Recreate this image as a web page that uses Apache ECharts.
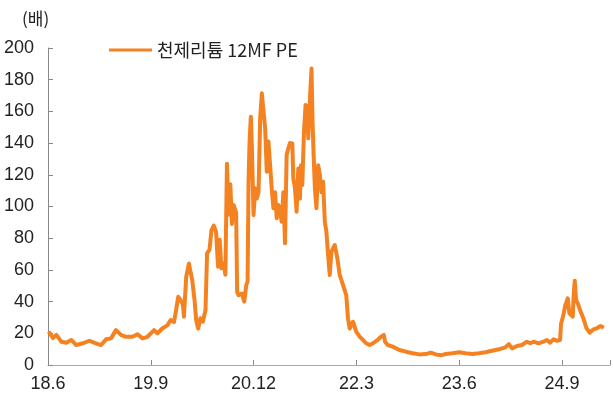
<!DOCTYPE html>
<html>
<head>
<meta charset="utf-8">
<script src="https://cdn.jsdelivr.net/npm/echarts@6/dist/echarts.min.js"></script>
<style>
    html, body { margin: 0; padding: 0; background: #fff; }
    #chart { width: 613px; height: 398px; }
</style>
</head>
<body>
<div id="chart"></div>
<script>
// months since 2018-06, and PE
var monthIdx = [
    0.1, 0.73, 1.22, 1.94, 2.67, 3.39, 4.12, 5.08, 6.05, 6.78, 7.75, 8.47, 9.2, 9.92, 10.65, 11.37,
    12.33, 13.06, 13.78, 14.51, 15.48, 15.96, 16.68, 17.41, 17.9, 18.38, 18.63, 19.0, 19.35, 19.69,
    19.83, 20.17, 20.56, 20.8, 21.04, 21.38, 21.62, 21.91, 22.25, 22.59, 22.98, 23.21, 23.56, 23.85,
    24.18, 24.52, 24.81, 25.05, 25.3, 25.63, 25.88, 26.11, 26.36, 26.6, 26.84, 27.08, 27.45, 27.6,
    27.81, 28.29, 28.64, 28.93, 29.12, 29.26, 29.41, 29.6, 29.74, 29.99, 30.23, 30.47, 30.72, 30.96,
    31.2, 31.44, 31.69, 31.92, 32.16, 32.41, 32.64, 32.89, 33.13, 33.37, 33.61, 33.86, 34.09, 34.34,
    34.58, 34.82, 35.07, 35.31, 35.65, 35.79, 36.04, 36.27, 36.52, 36.76, 36.91, 37.1, 37.35, 37.58,
    37.83, 37.97, 38.22, 38.45, 38.6, 38.74, 38.94, 39.17, 39.42, 39.67, 39.9, 40.14, 40.39, 40.62,
    40.87, 41.11, 41.35, 41.84, 42.22, 42.56, 43.04, 43.52, 43.77, 44.01, 44.5, 44.97, 45.47, 45.95,
    46.42, 46.92, 47.4, 48.12, 48.6, 48.99, 49.18, 49.57, 50.3, 51.27, 52.23, 53.2, 54.17, 55.13,
    55.85, 56.58, 57.3, 58.03, 59.0, 59.97, 60.93, 61.9, 62.87, 63.83, 64.8, 65.78, 66.73, 67.23,
    67.71, 68.43, 69.16, 69.88, 70.36, 70.85, 71.58, 72.3, 72.78, 73.26, 73.76, 74.23, 74.71, 74.86,
    75.2, 75.49, 75.84, 76.07, 76.56, 76.71, 76.86, 77.05, 77.3, 77.63, 78.1, 78.59, 79.07, 79.56,
    80.03, 80.62, 81.1
];
var pe = [
    21, 17, 19, 14.7, 14, 15.8, 12.6, 13.7, 15.3, 14, 12.6, 16.2, 16.8, 22, 19, 17.8,
    17.8, 19.4, 16.8, 17.8, 22, 20, 23, 25, 28.4, 27, 33, 43, 41, 37.9,
    30.5, 55.7, 64, 65, 53.6, 41, 28.4, 23, 29.5, 27.3, 34.7, 70.5, 72.6, 85,
    88, 84, 62, 79, 61, 64, 57, 127, 95, 114, 89, 101, 96, 46,
    44, 45, 40, 50.5, 52.6, 115.6, 141, 156.7, 138.8, 94.6, 111.5, 105, 109, 155.6,
    171.4, 170.3, 149, 122, 141, 126, 111.5, 98.9, 109, 92.6, 101, 96.7, 90.4, 109,
    76.8, 132.5, 136.7, 140, 139.8, 117.8, 111.5, 96.7, 124, 105, 126, 113.6, 147, 164,
    162, 143, 168, 187, 153.5, 134.6, 111.5, 98.9, 126, 119.9, 109, 115.6, 90.4, 84,
    69.4, 56.8, 71.5, 75.7, 67.3, 56.8, 50.5, 44, 29.5, 23, 27.3, 21, 17.9, 15.8,
    13.7, 12.6, 13.7, 15.8, 17.9, 19, 14.7, 12.6, 11.6, 9.5, 8.4, 7.4, 6.7, 6.9,
    7.8, 6.7, 6.1, 6.9, 7.4, 8.0, 7.4, 6.9, 7.4, 8, 9.0, 9.9, 11.1, 13.2,
    10.5, 12, 12.6, 14.7, 13.7, 14.7, 13.7, 14.7, 15.8, 14.1, 16.2, 15.3, 15.8, 26,
    31.5, 37.9, 42, 32.6, 30.5, 45, 53.2, 41, 38.9, 34.7, 29.5, 23, 20.4, 22.5,
    23, 24.6, 23.5
];
var xLabels = ['18.6', '19.9', '20.12', '22.3', '23.6', '24.9'];
var seriesName = '천제리튬 12MF PE';

var seriesData = [];
for (var i = 0; i < monthIdx.length; i++) {
    seriesData.push([monthIdx[i], pe[i]]);
}

var chart = echarts.init(document.getElementById('chart'));
var fontNum = 'Liberation Sans, Arial, sans-serif';
var fontKr = 'Noto Sans CJK KR, sans-serif';

chart.setOption({
    animation: false,
    title: {
        text: '(배)',
        left: 17,
        top: 5,
        textStyle: { fontFamily: fontKr, fontSize: 17, fontWeight: 'normal', color: '#222' }
    },
    legend: {
        left: 104,
        top: 36,
        icon: 'rect',
        itemWidth: 43,
        itemHeight: 3,
        itemGap: 5,
        textStyle: { fontFamily: fontKr, fontSize: 18, color: '#222' },
        data: [seriesName]
    },
    grid: { left: 48, right: 0, top: 48, bottom: 33, containLabel: false },
    xAxis: {
        type: 'value',
        min: 0,
        max: 82,
        interval: 15,
        splitLine: { show: false },
        axisLine: { show: true, lineStyle: { color: '#aaa', width: 1 } },
        axisTick: { show: true, inside: true, length: 5, lineStyle: { color: '#888' } },
        axisLabel: {
            margin: 10,
            fontFamily: fontNum,
            fontSize: 18,
            color: '#222',
            formatter: function(v) {
                var k = Math.round(v / 15);
                if (Math.abs(v - k * 15) > 0.01) return '';
                return xLabels[k] || '';
            }
        }
    },
    yAxis: {
        type: 'value',
        min: 0,
        max: 200,
        interval: 20,
        splitLine: { show: false },
        axisLine: { show: true, lineStyle: { color: '#888', width: 1 } },
        axisTick: { show: true, inside: true, length: 5, lineStyle: { color: '#888' } },
        axisLabel: { margin: 14, fontFamily: fontNum, fontSize: 18, color: '#222' }
    },
    series: [{
        name: seriesName,
        type: 'line',
        data: seriesData,
        symbol: 'none',
        smooth: false,
        lineStyle: { color: '#F58220', width: 4, join: 'round' },
        itemStyle: { color: '#F58220' }
    }]
});
</script>
</body>
</html>
